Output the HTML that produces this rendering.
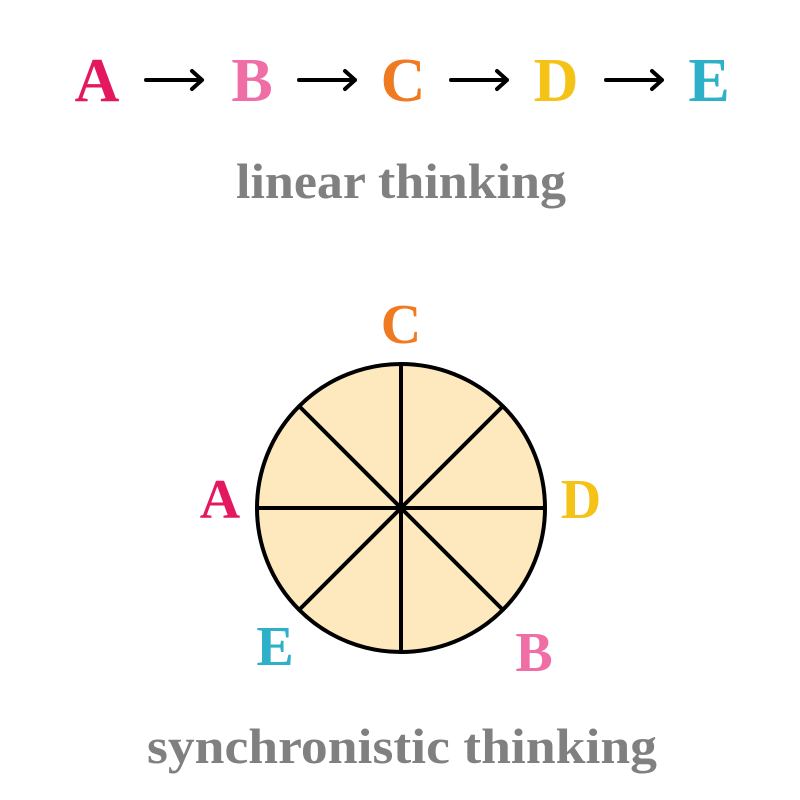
<!DOCTYPE html>
<html><head><style>html,body{margin:0;padding:0;background:#fff}svg{display:block}</style></head>
<body>
<svg width="800" height="800" viewBox="0 0 800 800" xmlns="http://www.w3.org/2000/svg" font-family="'Liberation Serif', serif" font-weight="bold" text-anchor="middle">
<g font-size="62">
<text x="97" y="101" fill="#e3185e">A</text>
<text x="252" y="101" fill="#f06ea6">B</text>
<text x="403" y="101" fill="#f07a22">C</text>
<text x="556" y="101" fill="#f5c318">D</text>
<text x="709" y="101" fill="#2eb0c8">E</text>
</g>
<g stroke="#000" stroke-width="4" fill="none" stroke-linecap="round" stroke-linejoin="round">
<path d="M146 80 H202 M192 71 L202 80 L192 89"/>
<path d="M299 80 H355 M345 71 L355 80 L345 89"/>
<path d="M451 80 H507 M497 71 L507 80 L497 89"/>
<path d="M606 80 H662 M652 71 L662 80 L652 89"/>
</g>
<text x="401" y="198" font-size="50" fill="#808080" textLength="330" lengthAdjust="spacingAndGlyphs">linear thinking</text>
<circle cx="401" cy="508" r="144" fill="#fde9bd" stroke="#000" stroke-width="4"/>
<g stroke="#000" stroke-width="4">
<line x1="401" y1="364" x2="401" y2="652"/>
<line x1="257" y1="508" x2="545" y2="508"/>
<line x1="299" y1="406" x2="503" y2="610"/>
<line x1="503" y1="406" x2="299" y2="610"/>
</g>
<g font-size="56">
<text x="401" y="343" fill="#f07a22">C</text>
<text x="220" y="518" fill="#e3185e">A</text>
<text x="581" y="518" fill="#f5c318">D</text>
<text x="275" y="665" fill="#2eb0c8">E</text>
<text x="534" y="671" fill="#f06ea6">B</text>
</g>
<text x="402" y="763" font-size="50" fill="#808080" textLength="510" lengthAdjust="spacingAndGlyphs">synchronistic thinking</text>
</svg>
</body></html>
